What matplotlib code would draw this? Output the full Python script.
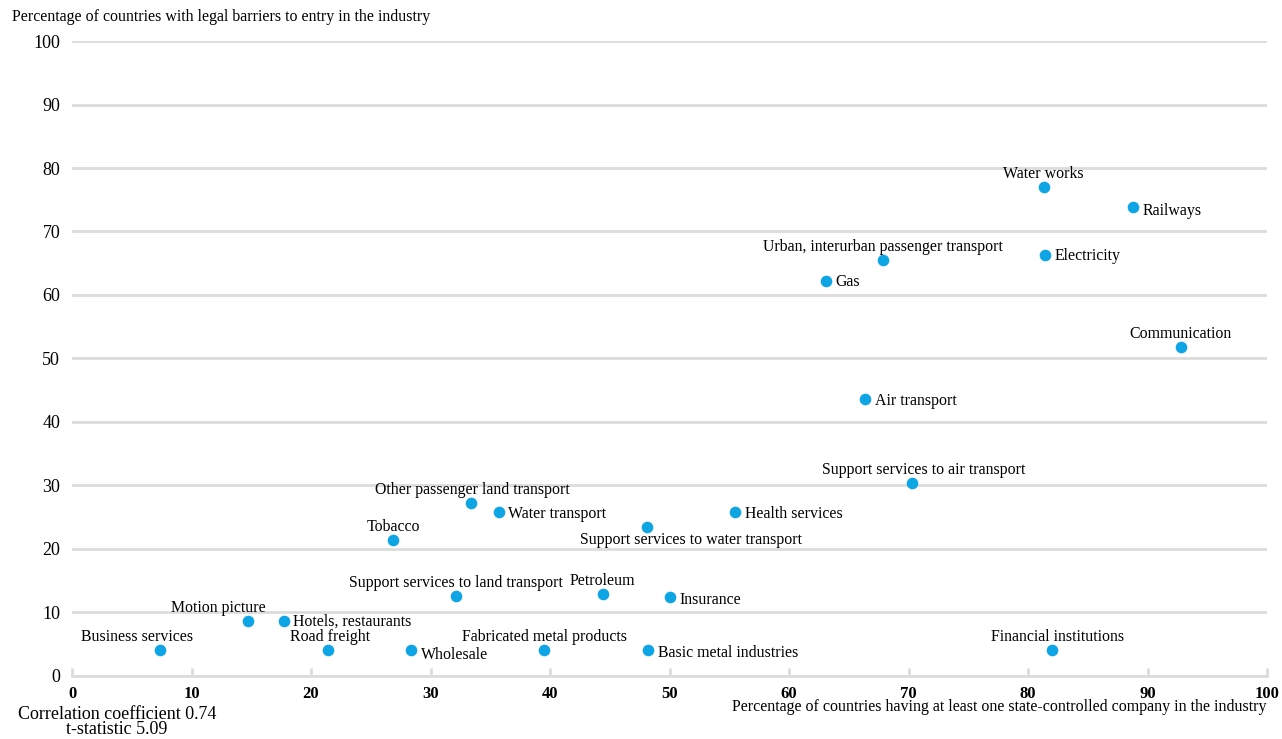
import matplotlib.pyplot as plt

plt.rcParams['font.family'] = ['Liberation Serif', 'DejaVu Serif']

names = ['Business services', 'Motion picture', 'Hotels, restaurants', 'Road freight',
         'Wholesale', 'Support services to land transport', 'Fabricated metal products',
         'Petroleum', 'Basic metal industries', 'Insurance', 'Financial institutions',
         'Tobacco', 'Other passenger land transport', 'Water transport',
         'Support services to water transport', 'Health services',
         'Support services to air transport', 'Air transport', 'Communication', 'Gas',
         'Urban, interurban passenger transport', 'Electricity', 'Water works', 'Railways']
state_owned = [7.4, 14.7, 17.7, 21.4, 28.4, 32.1, 39.5, 44.4, 48.2, 50.0, 82.0,
               26.9, 33.4, 35.7, 48.1, 55.5, 70.3, 66.4, 92.8, 63.1, 67.9, 81.4, 81.3, 88.8]
barriers = [4.1, 8.7, 8.7, 4.1, 4.1, 12.6, 4.1, 12.9, 4.1, 12.4, 4.1,
            21.4, 27.2, 25.8, 23.5, 25.8, 30.4, 43.6, 51.8, 62.2, 65.5, 66.3, 77.0, 73.9]

# label placement: (dx, dy) in points, ha, va
above = lambda dx=0: (dx, 3.5, 'center', 'bottom')
right = lambda dy=-2: (7, dy, 'left', 'center')
placement = {
    'Business services': above(-17), 'Motion picture': above(-21),
    'Hotels, restaurants': right(-1), 'Road freight': above(2), 'Wholesale': right(-4),
    'Support services to land transport': above(), 'Fabricated metal products': above(),
    'Petroleum': above(), 'Basic metal industries': right(-2), 'Insurance': right(-2),
    'Financial institutions': above(4), 'Tobacco': above(), 'Other passenger land transport': above(1),
    'Water transport': right(-1), 'Support services to water transport': (32, -4, 'center', 'top'),
    'Health services': right(-1), 'Support services to air transport': above(8),
    'Air transport': right(-1), 'Communication': above(), 'Gas': right(-1),
    'Urban, interurban passenger transport': above(), 'Electricity': right(-1),
    'Water works': above(), 'Railways': right(-3),
}

fig = plt.figure(figsize=(12.82, 7.39), dpi=100)
ax = fig.add_axes([0.0562, 0.0853, 0.9321, 0.8592])

ax.scatter(state_owned, barriers, s=70, color='#0ea5e4', zorder=3, clip_on=False, linewidths=0)
for n, x, y in zip(names, state_owned, barriers):
    dx, dy, ha, va = placement[n]
    ax.annotate(n, (x, y), xytext=(dx, dy), textcoords='offset points',
                ha=ha, va=va, fontsize=11.4)

ax.set_xlim(0, 100)
ax.set_ylim(0, 100)
ax.set_xticks(range(0, 101, 10))
ax.set_yticks(range(0, 101, 10))
ax.grid(axis='y', color='#dcdcdc', linewidth=2)
ax.set_axisbelow(True)
for s in ['left', 'right', 'top']:
    ax.spines[s].set_visible(False)
ax.spines['bottom'].set_color('#dcdcdc')
ax.spines['bottom'].set_linewidth(2)
ax.tick_params(axis='x', direction='in', length=6, width=2, color='#dcdcdc', pad=7,
               labelsize=12)
ax.tick_params(axis='y', length=0, pad=8.5, labelsize=13)
for t in ax.get_xticklabels():
    t.set_fontweight('bold')

fig.text(12 / 1282, 1 - 17 / 739, 'Percentage of countries with legal barriers to entry in the industry',
         fontsize=11.4, ha='left', va='center')
fig.text(1267 / 1282, 1 - 707 / 739,
         'Percentage of countries having at least one state-controlled company in the industry',
         fontsize=11.5, ha='right', va='center')
fig.text(117 / 1282, 1 - 722 / 739, 'Correlation coefficient 0.74\nt-statistic 5.09',
         fontsize=13, ha='center', va='center', linespacing=0.9)

fig.savefig('out.png', dpi=100)
